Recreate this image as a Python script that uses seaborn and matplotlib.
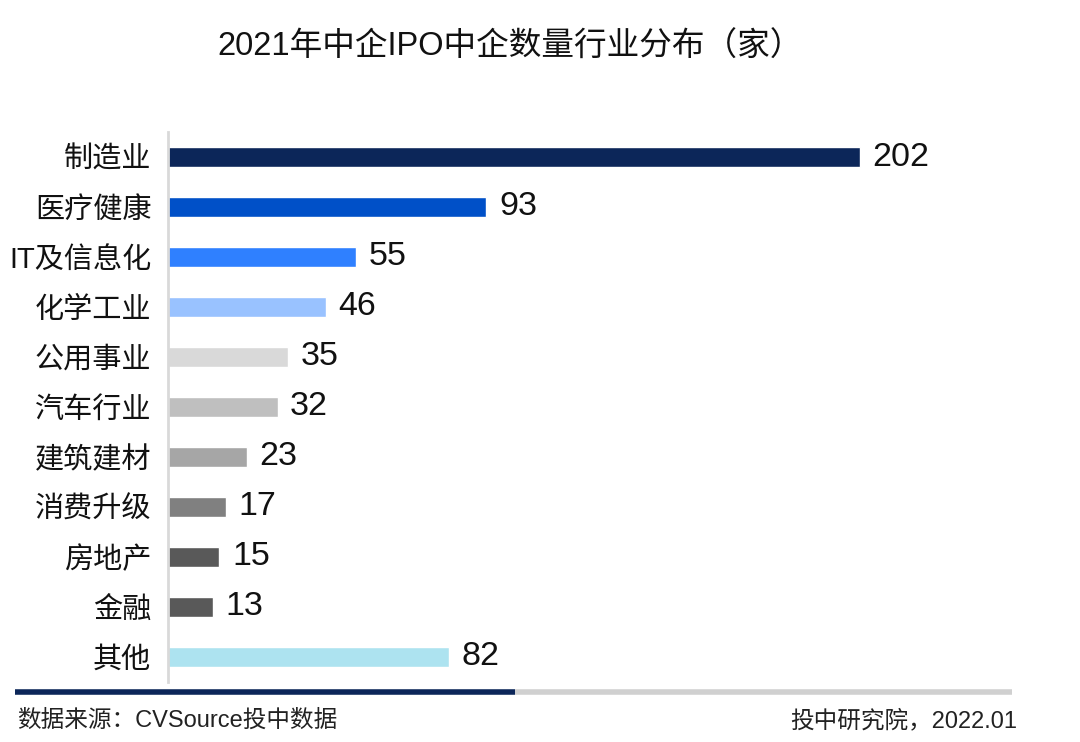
import matplotlib
matplotlib.use('Agg')
import matplotlib.pyplot as plt
import seaborn as sns
import pandas as pd

# ── Data ─────────────────────────────────────────────────────────────────────
industries = ['制造业', '医疗健康', 'IT及信息化', '化学工业', '公用事业', '汽车行业',
              '建筑建材', '消费升级', '房地产', '金融', '其他']
counts = [202, 93, 55, 46, 35, 32, 23, 17, 15, 13, 82]
bar_colors = ['#0c2659', '#0050c8', '#2f80ff', '#99c2ff', '#d9d9d9', '#bfbfbf',
              '#a6a6a6', '#808080', '#595959', '#595959', '#ade3f0']

title = '2021年中企IPO中企数量行业分布（家）'
source_note = '数据来源：CVSource投中数据'
credit_note = '投中研究院，2022.01'

df = pd.DataFrame({'industry': industries, 'count': counts})

sns.set_style('white')
FONTS = ['Liberation Sans', 'Noto Sans CJK SC', 'DejaVu Sans']
plt.rcParams['font.family'] = FONTS

fig = plt.figure(figsize=(10.8, 7.42), dpi=100)
ax = fig.add_axes([0.1556, 0.0809, 0.7704, 0.7412])

sns.barplot(data=df, x='count', y='industry', hue='industry',
            palette=dict(zip(industries, bar_colors)), order=industries,
            width=0.4, legend=False, ax=ax, saturation=1)

for cont in ax.containers:
    ax.bar_label(cont, padding=9, fontsize=24.5, color='#111111', family=FONTS)

ax.set_xlim(0, 243)
ax.set_ylim(len(industries) - 0.5, -0.5)
ax.set_xlabel('')
ax.set_ylabel('')
ax.set_xticks([])
ax.tick_params(axis='y', length=0, pad=12, labelsize=21, labelcolor='#111111')
for lbl in ax.get_yticklabels():
    lbl.set_family(FONTS)

for side in ['top', 'right', 'bottom']:
    ax.spines[side].set_visible(False)
ax.spines['left'].set_color('#d9d9d9')
ax.spines['left'].set_linewidth(2)

fig.text(0.472, 1 - 47 / 742, title, ha='center', va='center', fontsize=23.5,
         color='#111111', family=FONTS, fontweight='medium')

# footer bar
fig.add_artist(plt.Line2D([15 / 1080, 515 / 1080], [1 - 692 / 742] * 2,
                          color='#0c2659', linewidth=4, solid_capstyle='butt'))
fig.add_artist(plt.Line2D([515 / 1080, 1012 / 1080], [1 - 692 / 742] * 2,
                          color='#d0d0d0', linewidth=4, solid_capstyle='butt'))

fig.text(17 / 1080, 1 - 721 / 742, source_note, ha='left', va='center',
         fontsize=17, color='#222222', family=FONTS)
fig.text(1017 / 1080, 1 - 721 / 742, credit_note, ha='right', va='center',
         fontsize=17, color='#222222', family=FONTS)

fig.savefig('out.png', dpi=100)
plt.close(fig)
